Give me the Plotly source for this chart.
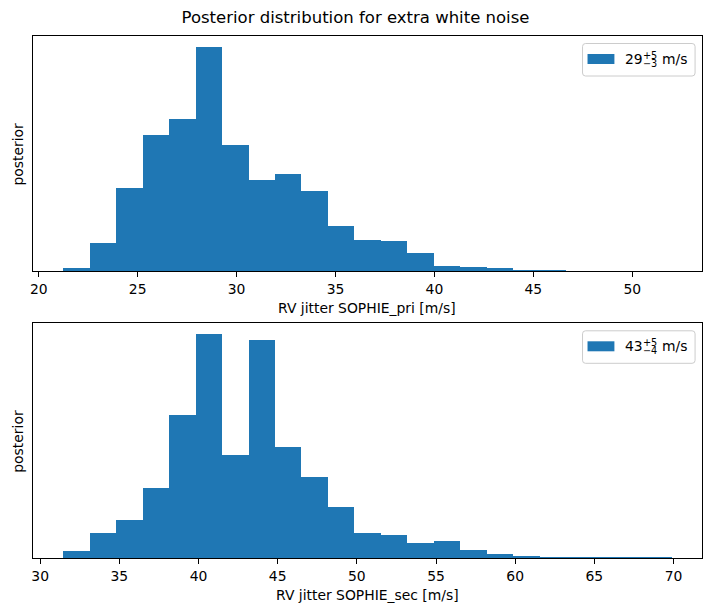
import numpy as np
import plotly.graph_objects as go

W, H = 711, 611

# ---------------- data ----------------
title = "Posterior distribution for extra white noise"
xlabels = ["RV jitter SOPHIE_pri [m/s]", "RV jitter SOPHIE_sec [m/s]"]
ylabel = "posterior"

# histogram bin ranges (23 equal bins each)
pri_range = [21.24, 51.99]
sec_range = [31.46, 69.88]
n_bins = 23

# relative bin heights
pri_heights = [3.0, 28.3, 83.3, 136.3, 152.0, 224.3, 126.0, 91.0, 97.0, 80.0,
               45.0, 31.0, 30.0, 18.3, 5.0, 4.0, 3.0, 1.3, 1.0, 0.3, 0.2, 0.0, 0.2]
sec_heights = [7.3, 25.3, 38.0, 70.0, 143.0, 224.0, 103.0, 218.0, 111.0, 81.3,
               51.0, 25.3, 23.0, 15.3, 17.3, 8.0, 4.0, 2.0, 1.0, 0.7, 0.7, 0.2, 0.2]

pri_ticks = [20, 25, 30, 35, 40, 45, 50]
sec_ticks = [30, 35, 40, 45, 50, 55, 60, 65, 70]

legend_main = ["29", "43"]
legend_sup = ["+5", "+5"]
legend_sub = ["\u22123", "\u22124"]
legend_unit = "m/s"

# ---------------- style ----------------
BLUE = "#1f77b4"
FONT = "DejaVu Sans"
FS = 13.9


def px(x):
    return x / W


def py(y):
    return 1 - y / H


def note(text, x, y, xanchor, size, angle=0):
    fig.add_annotation(text=text, xref="paper", yref="paper", x=px(x), y=py(y),
                       xanchor=xanchor, yanchor="middle", textangle=angle,
                       showarrow=False, borderpad=0, borderwidth=0,
                       font=dict(family=FONT, size=size, color="black"))


fig = go.Figure()

axes_px = [(36.0, 271.3), (323.3, 558.3)]   # top, bottom of each axes in pixels
x_px = (30.0, 702.0)

datasets = [(pri_range, pri_heights, pri_ticks), (sec_range, sec_heights, sec_ticks)]

for i, (rng, heights, ticks) in enumerate(datasets):
    edges = np.linspace(rng[0], rng[1], n_bins + 1)
    widths = np.diff(edges)
    xa = "x" if i == 0 else "x2"
    ya = "y" if i == 0 else "y2"
    fig.add_trace(go.Bar(
        x=edges[:-1], y=heights, width=widths, offset=0,
        marker=dict(color=BLUE, line=dict(width=0)),
        xaxis=xa, yaxis=ya, showlegend=False,
        name=f"{legend_main[i]} {legend_unit}",
    ))
    span = rng[1] - rng[0]
    top, bot = axes_px[i]
    ax_common = dict(
        showline=True, mirror=True, linecolor="black", linewidth=1,
        showgrid=False, zeroline=False,
    )
    xkey = "xaxis" if i == 0 else "xaxis2"
    ykey = "yaxis" if i == 0 else "yaxis2"
    fig.layout[xkey] = dict(
        domain=[px(x_px[0]), px(x_px[1])],
        range=[rng[0] - 0.05 * span, rng[1] + 0.05 * span],
        tickvals=ticks, ticktext=[str(t) for t in ticks],
        ticks="outside", ticklen=5, tickwidth=1, tickcolor="black",
        tickfont=dict(family=FONT, size=FS, color="black"),
        anchor=ya, **ax_common,
    )
    fig.layout[ykey] = dict(
        domain=[py(bot), py(top)],
        range=[0, max(heights) * 1.05],
        showticklabels=False, ticks="",
        anchor=xa, **ax_common,
    )
    # axis labels
    note(xlabels[i], 366, bot + 37, "center", FS)
    note(ylabel, 15, (top + bot) / 2, "center", FS, angle=-90)

    # legend (matplotlib style box)
    off = top - 36.0
    bx0, bx1, by0, by1, r = 582.0, 695.0, 43.5 + off, 76.0 + off, 3.0
    path = (f"M {px(bx0 + r)},{py(by0)} L {px(bx1 - r)},{py(by0)} "
            f"Q {px(bx1)},{py(by0)} {px(bx1)},{py(by0 + r)} "
            f"L {px(bx1)},{py(by1 - r)} Q {px(bx1)},{py(by1)} {px(bx1 - r)},{py(by1)} "
            f"L {px(bx0 + r)},{py(by1)} Q {px(bx0)},{py(by1)} {px(bx0)},{py(by1 - r)} "
            f"L {px(bx0)},{py(by0 + r)} Q {px(bx0)},{py(by0)} {px(bx0 + r)},{py(by0)} Z")
    fig.add_shape(type="path", path=path, xref="paper", yref="paper",
                  line=dict(color="#cccccc", width=1), fillcolor="rgba(255,255,255,0.8)")
    fig.add_shape(type="rect", xref="paper", yref="paper",
                  x0=px(587), x1=px(614), y0=py(54 + off), y1=py(64 + off),
                  line=dict(width=0), fillcolor=BLUE)
    note(legend_main[i], 642.5, 59 + off, "right", FS)
    note(legend_sup[i], 643, 55.5 + off, "left", 9.7)
    note(legend_sub[i], 643, 63.5 + off, "left", 9.7)
    note(legend_unit, 662, 59 + off, "left", FS)

fig.update_layout(
    width=W, height=H,
    margin=dict(l=0, r=0, t=0, b=0),
    paper_bgcolor="white", plot_bgcolor="white",
    bargap=0,
    title=dict(text=title, x=0.5, xanchor="center", y=1 - 17.5 / H, yanchor="middle",
               yref="container", font=dict(family=FONT, size=16.5, color="black")),
    showlegend=False,
)

fig.write_html("out.html")
